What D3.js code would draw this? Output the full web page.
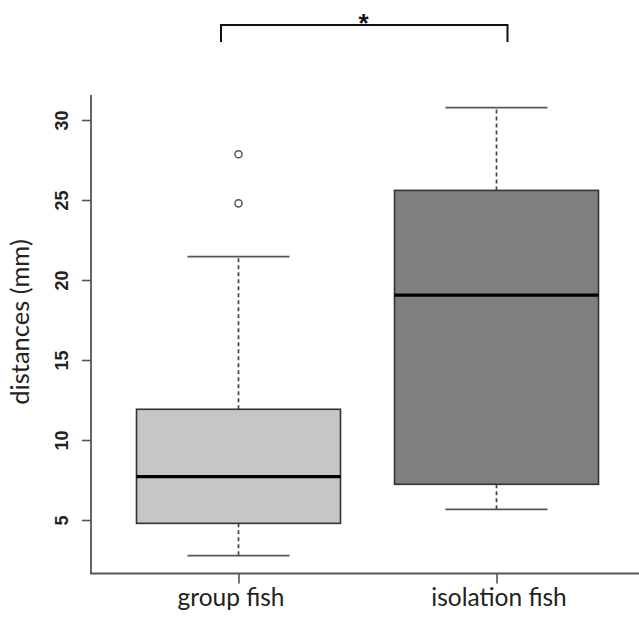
<!DOCTYPE html>
<html>
<head>
<meta charset="utf-8">
<script src="https://cdn.jsdelivr.net/npm/d3@7"></script>
<style>
  html, body { margin: 0; padding: 0; background: #fff; }
  svg { display: block; }
</style>
</head>
<body>
<svg id="chart" width="639" height="623"></svg>
<script>
// ---- data ----
const categories = ["group fish", "isolation fish"];
const lowerWhisker = [2.77, 5.67];
const q1 = [4.79, 7.23];
const median = [7.71, 19.05];
const q3 = [11.92, 25.6];
const upperWhisker = [21.46, 30.77];
const outliers = [[27.86, 24.79], []];
const yTicks = [5, 10, 15, 20, 25, 30];
const fills = ["#c6c6c6", "#7f7f7f"];
const yTitle = "distances (mm)";
const sigLabel = "*";

// ---- layout ----
const svg = d3.select("#chart");
const plotLeft = 91, plotBottom = 573.5, plotTop = 95, plotRight = 639;

const x = d3.scaleLinear().domain([0.5, 2.5]).range([109.5, 625.5]);
const y = d3.scaleLinear().domain([5, 30]).range([520, 120]);
const boxHalf = 102;
const capHalf = 51;
const labelShift = [-8, 2];

// axes lines (L shape)
const axisColor = "#555";
const yAxis = d3.axisLeft(y).tickValues(yTicks).tickSize(9).tickSizeOuter(0).tickFormat(d3.format("d"));
const gy = svg.append("g").attr("transform", `translate(${plotLeft},0)`).call(yAxis);
gy.select(".domain").remove();
gy.selectAll(".tick line").attr("stroke", axisColor).attr("stroke-width", 1.6);
gy.selectAll(".tick text")
  .attr("x", null).attr("dy", null)
  .attr("text-anchor", "middle")
  .attr("transform", "translate(-23,0) rotate(-90)")
  .attr("font-family", "Liberation Sans, Arial, sans-serif")
  .attr("font-weight", "bold")
  .attr("font-size", 18)
  .attr("fill", "#222");
svg.append("line").attr("x1", plotLeft).attr("x2", plotLeft)
  .attr("y1", plotTop).attr("y2", plotBottom)
  .attr("stroke", axisColor).attr("stroke-width", 1.8);

const xBand = d3.scalePoint().domain(categories).range([x(1), x(2)]);
const xAxis = d3.axisBottom(xBand).tickSize(10).tickSizeOuter(0);
const gx = svg.append("g").attr("transform", `translate(0,${plotBottom})`).call(xAxis);
gx.select(".domain").remove();
gx.selectAll(".tick line").attr("stroke", axisColor).attr("stroke-width", 1.6);
gx.selectAll(".tick text")
  .attr("y", 32).attr("dy", null)
  .attr("dx", (d, i) => labelShift[i])
  .attr("font-family", "Lato, 'Open Sans', sans-serif")
  .attr("font-size", 24.5)
  .attr("fill", "#222");
svg.append("line").attr("x1", plotLeft - 0.9).attr("x2", plotRight)
  .attr("y1", plotBottom).attr("y2", plotBottom)
  .attr("stroke", axisColor).attr("stroke-width", 1.8);

// y title
svg.append("text")
  .attr("transform", `translate(29,322) rotate(-90)`)
  .attr("text-anchor", "middle")
  .attr("font-family", "Lato, 'Open Sans', sans-serif")
  .attr("font-size", 25.5)
  .attr("fill", "#222")
  .text(yTitle);

// boxes
const data = categories.map((c, i) => ({
  c, i, cx: xBand(c), lw: lowerWhisker[i], q1: q1[i], med: median[i], q3: q3[i], uw: upperWhisker[i], out: outliers[i], fill: fills[i]
}));
const g = svg.append("g").selectAll("g").data(data).join("g");

// whiskers dashed
g.append("line").attr("x1", d => d.cx).attr("x2", d => d.cx)
  .attr("y1", d => y(d.q3)).attr("y2", d => y(d.uw))
  .attr("stroke", "#444").attr("stroke-width", 1.7).attr("stroke-dasharray", "4,3");
g.append("line").attr("x1", d => d.cx).attr("x2", d => d.cx)
  .attr("y1", d => y(d.q1)).attr("y2", d => y(d.lw))
  .attr("stroke", "#444").attr("stroke-width", 1.7).attr("stroke-dasharray", "4,3");
// caps
g.append("line").attr("x1", d => d.cx - capHalf).attr("x2", d => d.cx + capHalf)
  .attr("y1", d => y(d.uw)).attr("y2", d => y(d.uw))
  .attr("stroke", "#555").attr("stroke-width", 1.8);
g.append("line").attr("x1", d => d.cx - capHalf).attr("x2", d => d.cx + capHalf)
  .attr("y1", d => y(d.lw)).attr("y2", d => y(d.lw))
  .attr("stroke", "#555").attr("stroke-width", 1.8);
// box
g.append("rect")
  .attr("x", d => d.cx - boxHalf).attr("width", 2 * boxHalf)
  .attr("y", d => y(d.q3)).attr("height", d => y(d.q1) - y(d.q3))
  .attr("fill", d => d.fill).attr("stroke", "#333").attr("stroke-width", 1.6);
// median
g.append("line").attr("x1", d => d.cx - boxHalf).attr("x2", d => d.cx + boxHalf)
  .attr("y1", d => y(d.med)).attr("y2", d => y(d.med))
  .attr("stroke", "#000").attr("stroke-width", 3.2);
// outliers
g.selectAll("circle").data(d => d.out.map(v => ({ v, cx: d.cx }))).join("circle")
  .attr("cx", d => d.cx).attr("cy", d => y(d.v)).attr("r", 3.6)
  .attr("fill", "none").attr("stroke", "#555").attr("stroke-width", 1.5);

// significance bracket
const bx1 = 221, bx2 = 507.5, bTop = 25, bBot = 42;
svg.append("path")
  .attr("d", d3.line()([[bx1, bBot], [bx1, bTop], [bx2, bTop], [bx2, bBot]]))
  .attr("fill", "none").attr("stroke", "#111").attr("stroke-width", 2);
svg.append("text")
  .attr("x", 363.5).attr("y", 32)
  .attr("text-anchor", "middle")
  .attr("font-family", "Liberation Sans, Arial, sans-serif")
  .attr("font-weight", "bold")
  .attr("font-size", 26)
  .attr("fill", "#111")
  .text(sigLabel);
</script>
</body>
</html>
